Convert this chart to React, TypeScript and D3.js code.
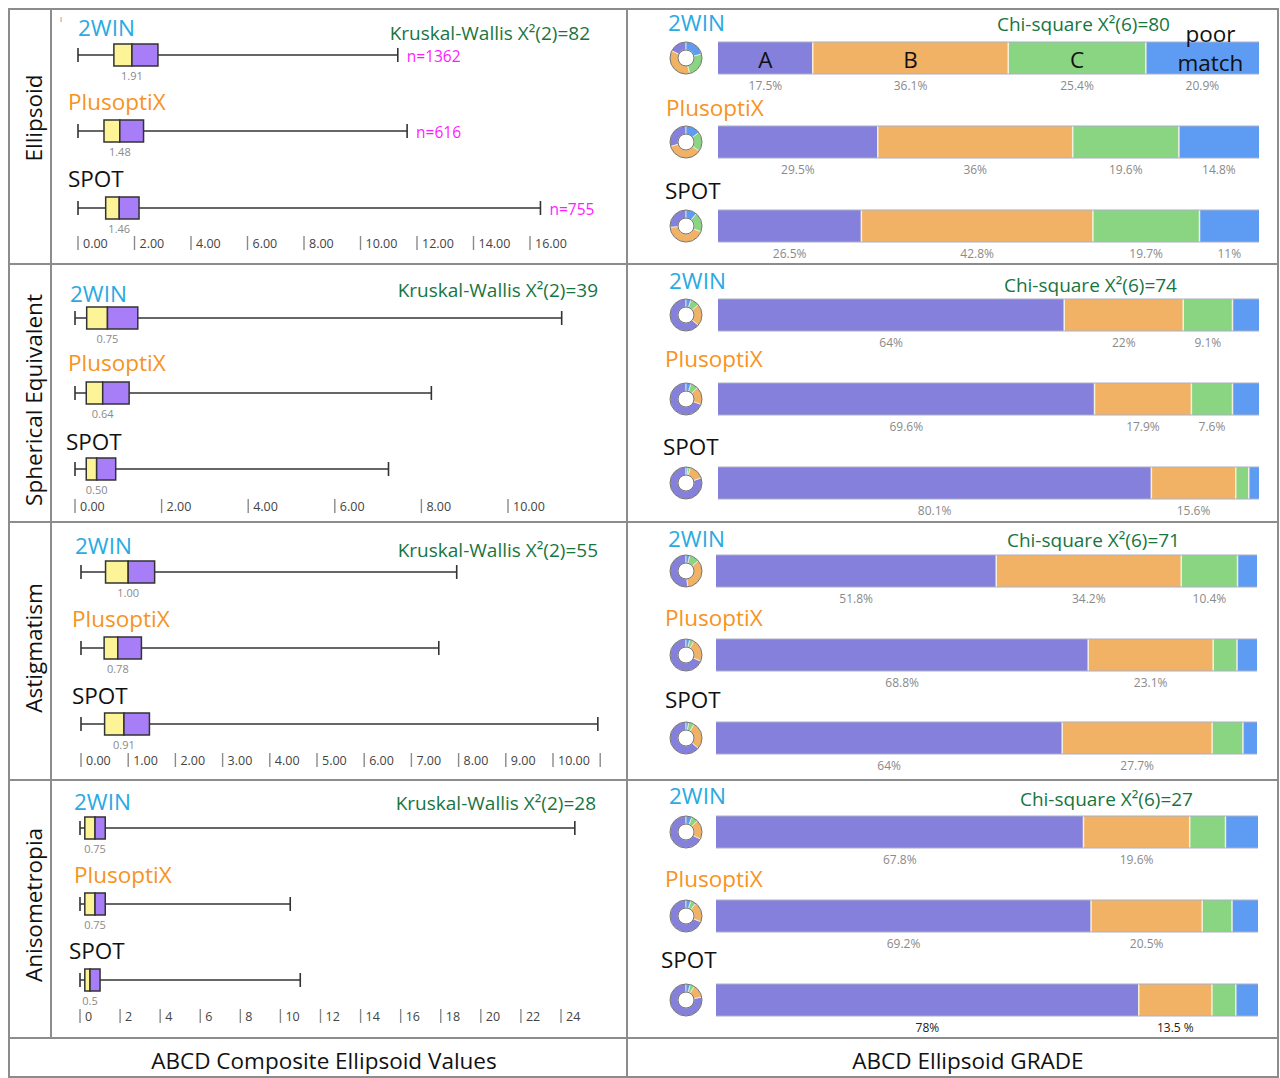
import React from "react";
import * as d3 from "d3";

// ---------- DATA ----------
const rowLabels = ["Ellipsoid", "Spherical Equivalent", "Astigmatism", "Anisometropia"];
const devices = ["2WIN", "PlusoptiX", "SPOT"];
const kwStats = [
  "Kruskal-Wallis X²(2)=82",
  "Kruskal-Wallis X²(2)=39",
  "Kruskal-Wallis X²(2)=55",
  "Kruskal-Wallis X²(2)=28",
];
const chiStats = ["Chi-square X²(6)=80", "Chi-square X²(6)=74", "Chi-square X²(6)=71", "Chi-square X²(6)=27"];
const gradeNames = ["A", "B", "C", "poor match"];
const footerLabels = ["ABCD Composite Ellipsoid Values", "ABCD Ellipsoid GRADE"];

// box stats: [min, q1, median, q3, max]
const ellipsoidBoxes = [
  [0, 1.27, 1.91, 2.83, 11.32],
  [0, 0.92, 1.48, 2.32, 11.65],
  [0, 0.98, 1.46, 2.16, 16.37],
];
const sphericalBoxes = [
  [0, 0.27, 0.75, 1.45, 11.24],
  [0, 0.26, 0.64, 1.25, 8.23],
  [0, 0.26, 0.5, 0.94, 7.24],
];
const astigmatismBoxes = [
  [0, 0.52, 1.0, 1.56, 7.96],
  [0, 0.49, 0.78, 1.28, 7.58],
  [0, 0.5, 0.91, 1.45, 10.95],
];
const anisometropiaBoxes = [
  [0, 0.24, 0.75, 1.26, 24.69],
  [0, 0.24, 0.75, 1.26, 10.49],
  [0, 0.24, 0.5, 1.0, 10.99],
];
const ellipsoidMedianLabels = ["1.91", "1.48", "1.46"];
const sphericalMedianLabels = ["0.75", "0.64", "0.50"];
const astigmatismMedianLabels = ["1.00", "0.78", "0.91"];
const anisometropiaMedianLabels = ["0.75", "0.75", "0.5"];
const ellipsoidN = ["n=1362", "n=616", "n=755"];

const ellipsoidTicks = [0, 2, 4, 6, 8, 10, 12, 14, 16];
const sphericalTicks = [0, 2, 4, 6, 8, 10];
const astigmatismTicks = [0, 1, 2, 3, 4, 5, 6, 7, 8, 9, 10];
const astigmatismBlankTicks = [11];
const anisometropiaTicks = [0, 2, 4, 6, 8, 10, 12, 14, 16, 18, 20, 22, 24];

// grade shares (%) in order A, B, C, poor match
const ellipsoidGrades = [
  [17.5, 36.1, 25.4, 20.9],
  [29.5, 36, 19.6, 14.8],
  [26.5, 42.8, 19.7, 11],
];
const sphericalGrades = [
  [64, 22, 9.1, 4.9],
  [69.6, 17.9, 7.6, 4.9],
  [80.1, 15.6, 2.4, 1.9],
];
const astigmatismGrades = [
  [51.8, 34.2, 10.4, 3.6],
  [68.8, 23.1, 4.4, 3.7],
  [64, 27.7, 5.7, 2.6],
];
const anisometropiaGrades = [
  [67.8, 19.6, 6.6, 6.0],
  [69.2, 20.5, 5.5, 4.8],
  [78, 13.5, 4.4, 4.1],
];
const ellipsoidGradeLabels = [
  ["17.5%", "36.1%", "25.4%", "20.9%"],
  ["29.5%", "36%", "19.6%", "14.8%"],
  ["26.5%", "42.8%", "19.7%", "11%"],
];
const sphericalGradeLabels = [
  ["64%", "22%", "9.1%", ""],
  ["69.6%", "17.9%", "7.6%", ""],
  ["80.1%", "15.6%", "", ""],
];
const astigmatismGradeLabels = [
  ["51.8%", "34.2%", "10.4%", ""],
  ["68.8%", "23.1%", "", ""],
  ["64%", "27.7%", "", ""],
];
const anisometropiaGradeLabels = [
  ["67.8%", "19.6%", "", ""],
  ["69.2%", "20.5%", "", ""],
  ["78%", "13.5 %", "", ""],
];

// ---------- LAYOUT / STYLE ----------
const FONT = "'Open Sans', 'Noto Sans', sans-serif";
const deviceColors = ["#29aae2", "#f7931e", "#111111"];
const gradeColors = ["#8480dc", "#f1b266", "#89d582", "#5e9cf4"];
const statColor = "#17753f";
const borderColor = "#8c8c8c";

const boxPanels = [
  { boxes: ellipsoidBoxes, med: ellipsoidMedianLabels, ticks: ellipsoidTicks, blank: [] as number[], fmt: d3.format(".2f"), n: ellipsoidN,
    x0: 78, x1: 530, dMax: 16, rowsY: [55, 131, 208], labelY: [27, 101, 178], labelX: [78, 68, 68], axisY: 243, statX: 590, statY: 33 },
  { boxes: sphericalBoxes, med: sphericalMedianLabels, ticks: sphericalTicks, blank: [] as number[], fmt: d3.format(".2f"), n: null,
    x0: 75, x1: 508, dMax: 10, rowsY: [318, 393, 469], labelY: [293, 362, 441], labelX: [70, 68, 66], axisY: 506, statX: 598, statY: 290 },
  { boxes: astigmatismBoxes, med: astigmatismMedianLabels, ticks: astigmatismTicks, blank: astigmatismBlankTicks, fmt: d3.format(".2f"), n: null,
    x0: 81, x1: 553, dMax: 10, rowsY: [572, 648, 724], labelY: [545, 618, 695], labelX: [75, 72, 72], axisY: 760, statX: 598, statY: 550 },
  { boxes: anisometropiaBoxes, med: anisometropiaMedianLabels, ticks: anisometropiaTicks, blank: [] as number[], fmt: d3.format("d"), n: null,
    x0: 80, x1: 561, dMax: 24, rowsY: [828, 904, 980], labelY: [801, 874, 950], labelX: [74, 74, 69], axisY: 1016, statX: 596, statY: 803 },
];

const barPanels = [
  { grades: ellipsoidGrades, labels: ellipsoidGradeLabels, x0: 718, x1: 1259, rowsY: [58, 142, 226], labelY: [22, 107, 190], labelX: [668, 666, 665], statX: 1170, statY: 24, showNames: true },
  { grades: sphericalGrades, labels: sphericalGradeLabels, x0: 718, x1: 1259, rowsY: [315, 399, 483], labelY: [280, 358, 446], labelX: [669, 665, 663], statX: 1177, statY: 285, showNames: false },
  { grades: astigmatismGrades, labels: astigmatismGradeLabels, x0: 716, x1: 1257, rowsY: [571, 655, 738], labelY: [538, 617, 699], labelX: [668, 665, 665], statX: 1180, statY: 540, showNames: false },
  { grades: anisometropiaGrades, labels: anisometropiaGradeLabels, x0: 716, x1: 1258, rowsY: [832, 916, 1000], labelY: [795, 878, 959], labelX: [669, 665, 661], statX: 1193, statY: 799, showNames: false },
];

const rowLabelY = [118, 400, 648, 905];
const panelTops = [9, 264, 522, 780, 1038, 1077];

function BoxPanel({ p }: { p: (typeof boxPanels)[number] }) {
  const x = d3.scaleLinear().domain([0, p.dMax]).range([p.x0, p.x1]);
  const bh = 22;
  const cap = 14;
  return (
    <g>
      {p.boxes.map((b, i) => {
        const cy = p.rowsY[i];
        const [mn, q1, md, q3, mx] = b;
        return (
          <g key={i}>
            <text x={p.labelX[i]} y={p.labelY[i]} dominantBaseline="central" fontSize={22.5} fill={deviceColors[i]} fontFamily={FONT}>
              {devices[i]}
            </text>
            <line x1={x(mn)} x2={x(mx)} y1={cy} y2={cy} stroke="#333" strokeWidth={1.6} />
            <line x1={x(mn)} x2={x(mn)} y1={cy - cap / 2} y2={cy + cap / 2} stroke="#333" strokeWidth={1.6} />
            <line x1={x(mx)} x2={x(mx)} y1={cy - cap / 2} y2={cy + cap / 2} stroke="#333" strokeWidth={1.6} />
            <rect x={x(q1)} y={cy - bh / 2} width={x(md) - x(q1)} height={bh} fill="#fcf497" stroke="#333" strokeWidth={1.5} />
            <rect x={x(md)} y={cy - bh / 2} width={x(q3) - x(md)} height={bh} fill="#a87df8" stroke="#333" strokeWidth={1.5} />
            <text x={x(md)} y={cy + 20} textAnchor="middle" dominantBaseline="central" fontSize={11} fill="#8a8a8a" fontFamily={FONT}>
              {p.med[i]}
            </text>
            {p.n && (
              <text x={x(mx) + 9} y={cy + 1} dominantBaseline="central" fontSize={15.5} fill="#ff1aff" fontFamily={FONT}>
                {p.n[i]}
              </text>
            )}
          </g>
        );
      })}
      {p.ticks.concat(p.blank).map((t) => (
        <g key={t}>
          <line x1={x(t)} x2={x(t)} y1={p.axisY - 7} y2={p.axisY + 7} stroke="#8a8a8a" strokeWidth={1.4} />
          {p.blank.indexOf(t) < 0 && (
            <text x={x(t) + 5} y={p.axisY} dominantBaseline="central" fontSize={12.5} fill="#444" fontFamily={FONT}>
              {p.fmt(t)}
            </text>
          )}
        </g>
      ))}
    </g>
  );
}

function BarPanel({ p, pi }: { p: (typeof barPanels)[number]; pi: number }) {
  const bh = 32;
  const arc = d3.arc<d3.PieArcDatum<number>>().innerRadius(8).outerRadius(16);
  const pie = d3.pie<number>().sort(null).startAngle(0).endAngle(-2 * Math.PI);
  return (
    <g>
      {p.grades.map((g, i) => {
        const cy = p.rowsY[i];
        const total = d3.sum(g);
        const x = d3.scaleLinear().domain([0, total]).range([p.x0, p.x1]);
        const cum = d3.cumsum(g);
        const starts = [0].concat(Array.from(cum).slice(0, -1));
        const arcs = pie(g);
        const darkPct = pi === 3 && i === 2;
        return (
          <g key={i}>
            <text x={p.labelX[i]} y={p.labelY[i]} dominantBaseline="central" fontSize={22.5} fill={deviceColors[i]} fontFamily={FONT}>
              {devices[i]}
            </text>
            <g transform={`translate(686,${cy})`}>
              {arcs.map((a, k) => (
                <path key={k} d={arc(a) || ""} fill={gradeColors[k]} stroke="#f4f0e0" strokeWidth={0.8} />
              ))}
              <circle r={16} fill="none" stroke="#666" strokeWidth={0.9} />
              <circle r={8} fill="none" stroke="#666" strokeWidth={0.9} />
            </g>
            {g.map((v, k) => (
              <rect key={k} x={x(starts[k])} y={cy - bh / 2} width={x(starts[k] + v) - x(starts[k])} height={bh} fill={gradeColors[k]} />
            ))}
            {starts.slice(1).map((s, k) => (
              <line key={k} x1={x(s)} x2={x(s)} y1={cy - bh / 2} y2={cy + bh / 2} stroke="#f4f0dc" strokeWidth={1.5} />
            ))}
            <line x1={p.x0} x2={p.x1} y1={cy - bh / 2} y2={cy - bh / 2} stroke="#aab0c6" strokeWidth={1} />
            <line x1={p.x0} x2={p.x1} y1={cy + bh / 2} y2={cy + bh / 2} stroke="#aab0c6" strokeWidth={1} />
            {p.labels[i].map((l, k) =>
              l ? (
                <text key={k} x={x(starts[k] + g[k] / 2)} y={cy + 27} textAnchor="middle" dominantBaseline="central"
                  fontSize={12} fill={darkPct ? "#222" : "#8a8a8a"} fontFamily={FONT}>
                  {l}
                </text>
              ) : null
            )}
            {p.showNames && i === 0 &&
              g.map((v, k) =>
                k < 3 ? (
                  <text key={"n" + k} x={x(starts[k] + v / 2)} y={cy + 1} textAnchor="middle" dominantBaseline="central" fontSize={22.5} fill="#111" fontFamily={FONT}>
                    {gradeNames[k]}
                  </text>
                ) : (
                  <g key={"n" + k}>
                    <text x={x(starts[k] + v / 2) + 8} y={cy - 25} textAnchor="middle" dominantBaseline="central" fontSize={22.5} fill="#111" fontFamily={FONT}>
                      {gradeNames[k].split(" ")[0]}
                    </text>
                    <text x={x(starts[k] + v / 2) + 8} y={cy + 4} textAnchor="middle" dominantBaseline="central" fontSize={22.5} fill="#111" fontFamily={FONT}>
                      {gradeNames[k].split(" ")[1]}
                    </text>
                  </g>
                )
              )}
          </g>
        );
      })}
      <text x={p.statX} y={p.statY} textAnchor="end" dominantBaseline="central" fontSize={19} fill={statColor} fontFamily={FONT}>
        {chiStats[pi]}
      </text>
    </g>
  );
}

export default function App() {
  return (
    <svg width={1280} height={1078} style={{ position: "absolute", left: 0, top: 0, background: "#fff" }}>
      <rect x={0} y={0} width={1280} height={1078} fill="#fff" />
      {/* grid */}
      {panelTops.map((y) => (
        <line key={y} x1={8} x2={1279} y1={y} y2={y} stroke={borderColor} strokeWidth={2} />
      ))}
      <line x1={9} x2={9} y1={8} y2={1078} stroke={borderColor} strokeWidth={2} />
      <line x1={51} x2={51} y1={8} y2={1038} stroke={borderColor} strokeWidth={2} />
      <line x1={627} x2={627} y1={8} y2={1078} stroke={borderColor} strokeWidth={2} />
      <line x1={1278} x2={1278} y1={8} y2={1078} stroke={borderColor} strokeWidth={2} />

      {rowLabels.map((r, i) => (
        <text key={r} transform={`translate(33,${rowLabelY[i]}) rotate(-90)`} textAnchor="middle" dominantBaseline="central"
          fontSize={22.5} fill="#111" fontFamily={FONT}>
          {r}
        </text>
      ))}

      <text x={60} y={22} fontSize={8} fill="#777" fontFamily={FONT}>i</text>

      {boxPanels.map((p, i) => (
        <g key={i}>
          <BoxPanel p={p} />
          <text x={p.statX} y={p.statY} textAnchor="end" dominantBaseline="central" fontSize={19} fill={statColor} fontFamily={FONT}>
            {kwStats[i]}
          </text>
        </g>
      ))}
      {barPanels.map((p, i) => (
        <BarPanel key={i} p={p} pi={i} />
      ))}

      <text x={324} y={1060} textAnchor="middle" dominantBaseline="central" fontSize={22.5} fill="#111" fontFamily={FONT}>
        {footerLabels[0]}
      </text>
      <text x={968} y={1060} textAnchor="middle" dominantBaseline="central" fontSize={22.5} fill="#111" fontFamily={FONT}>
        {footerLabels[1]}
      </text>
    </svg>
  );
}
